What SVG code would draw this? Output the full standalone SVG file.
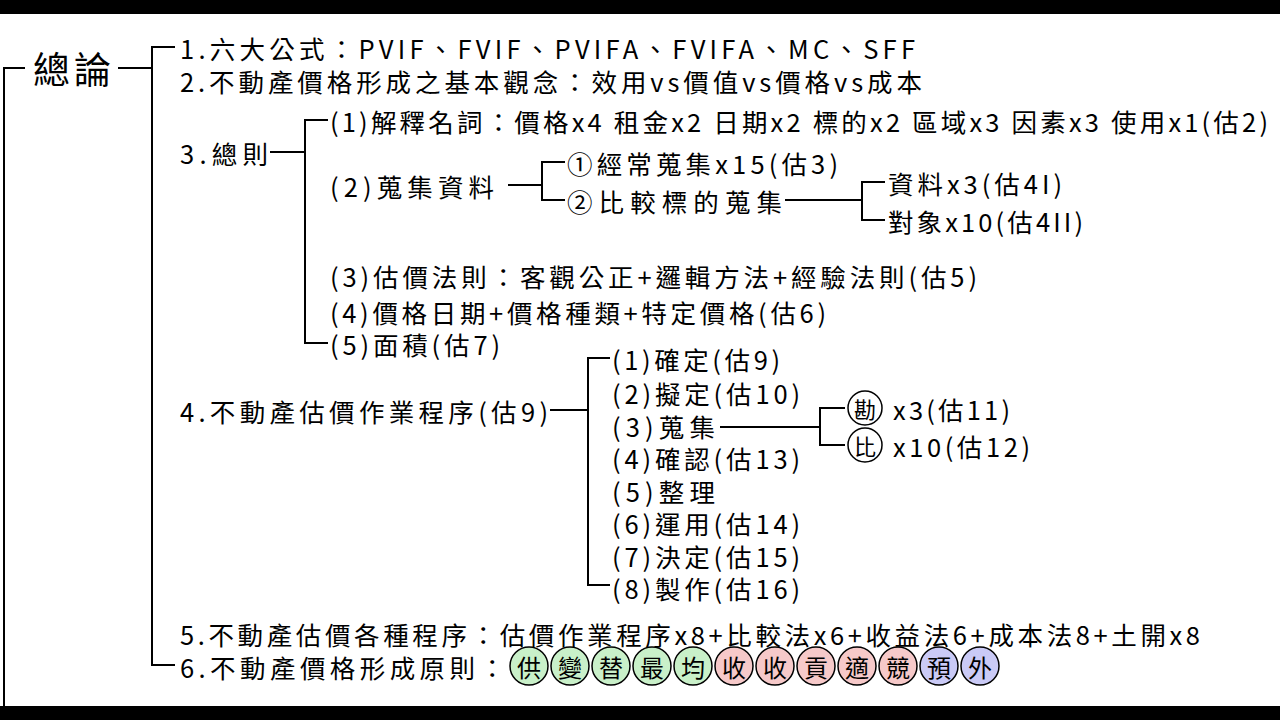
<svg xmlns="http://www.w3.org/2000/svg" width="1280" height="720" viewBox="0 0 1280 720">
<style>
text{font-family:"Noto Sans CJK TC","Liberation Sans",sans-serif;font-size:25.5px;fill:#000;dominant-baseline:central}
.l{stroke:#000;stroke-width:2;fill:none}
.g{fill:#c9f0c9;stroke:#000;stroke-width:1.5}
.r{fill:#f6c9c9;stroke:#000;stroke-width:1.5}
.b{fill:#cacaf6;stroke:#000;stroke-width:1.5}
.w{fill:#fff;stroke:#000;stroke-width:1.5}
.c{text-anchor:middle;font-size:24px}
</style>
<rect x="0" y="0" width="1280" height="14" fill="#000"/>
<rect x="0" y="706" width="1280" height="14" fill="#000"/>
<g id="connectors">
<path class="l" d="M4 720V68H25 M118 68H152 M175 47H152V665H175 M270 152H305 M328 120H305V343H328 M508 185H542 M565 162H542V200H565 M785 200H862 M885 182H862V220H885 M550 410H588 M610 358H588V585H610 M720 427H820 M845 408H820V445H845"/>
</g>
<g id="root"><text x="33" y="68" style="font-size:37px" textLength="78" lengthAdjust="spacing">總論</text></g>
<g id="n1"><text x="180" y="47" textLength="735" lengthAdjust="spacing">1.六大公式：PVIF、FVIF、PVIFA、FVIFA、MC、SFF</text></g>
<g id="n2"><text x="180" y="80" textLength="742" lengthAdjust="spacing">2.不動產價格形成之基本觀念：效用vs價值vs價格vs成本</text></g>
<g id="n3"><text x="180" y="152" textLength="88" lengthAdjust="spacing">3.總則</text></g>
<g id="n3a"><text x="330" y="120" textLength="938" lengthAdjust="spacing">(1)解釋名詞：價格x4 租金x2 日期x2 標的x2 區域x3 因素x3 使用x1(估2)</text></g>
<g id="n3b"><text x="330" y="185" textLength="164" lengthAdjust="spacing">(2)蒐集資料</text></g>
<g id="n3b1"><text x="567" y="162" textLength="271" lengthAdjust="spacing">①經常蒐集x15(估3)</text></g>
<g id="n3b2"><text x="567" y="200" textLength="215" lengthAdjust="spacing">②比較標的蒐集</text></g>
<g id="n3b2a"><text x="888" y="182" textLength="174" lengthAdjust="spacing">資料x3(估4I)</text></g>
<g id="n3b2b"><text x="888" y="220" textLength="195" lengthAdjust="spacing">對象x10(估4II)</text></g>
<g id="n3c"><text x="330" y="275" textLength="647" lengthAdjust="spacing">(3)估價法則：客觀公正+邏輯方法+經驗法則(估5)</text></g>
<g id="n3d"><text x="330" y="311" textLength="496" lengthAdjust="spacing">(4)價格日期+價格種類+特定價格(估6)</text></g>
<g id="n3e"><text x="330" y="343" textLength="170" lengthAdjust="spacing">(5)面積(估7)</text></g>
<g id="n4"><text x="180" y="410" textLength="368" lengthAdjust="spacing">4.不動產估價作業程序(估9)</text></g>
<g id="n4a">
<text x="612" y="358" textLength="168" lengthAdjust="spacing">(1)確定(估9)</text>
<text x="612" y="392" textLength="188" lengthAdjust="spacing">(2)擬定(估10)</text>
<text x="612" y="425" textLength="103" lengthAdjust="spacing">(3)蒐集</text>
<text x="612" y="457" textLength="188" lengthAdjust="spacing">(4)確認(估13)</text>
<text x="612" y="490" textLength="103" lengthAdjust="spacing">(5)整理</text>
<text x="612" y="522" textLength="188" lengthAdjust="spacing">(6)運用(估14)</text>
<text x="612" y="555" textLength="188" lengthAdjust="spacing">(7)決定(估15)</text>
<text x="612" y="587" textLength="188" lengthAdjust="spacing">(8)製作(估16)</text>
</g>
<g id="n4c1"><circle class="w" cx="865" cy="408" r="17"/><text class="c" x="865" y="408" style="font-size:22px">勘</text><text x="893" y="408" textLength="117" lengthAdjust="spacing">x3(估11)</text></g>
<g id="n4c2"><circle class="w" cx="865" cy="445" r="17"/><text class="c" x="865" y="445" style="font-size:22px">比</text><text x="893" y="445" textLength="137" lengthAdjust="spacing">x10(估12)</text></g>
<g id="n5"><text x="180" y="633" textLength="1020" lengthAdjust="spacing">5.不動產估價各種程序：估價作業程序x8+比較法x6+收益法6+成本法8+土開x8</text></g>
<g id="n6"><text x="180" y="666" textLength="325" lengthAdjust="spacing">6.不動產價格形成原則：</text>
<circle class="g" cx="529" cy="666" r="19"/><text class="c" x="529" y="666">供</text>
<circle class="g" cx="570" cy="666" r="19"/><text class="c" x="570" y="666">變</text>
<circle class="g" cx="611" cy="666" r="19"/><text class="c" x="611" y="666">替</text>
<circle class="g" cx="652" cy="666" r="19"/><text class="c" x="652" y="666">最</text>
<circle class="g" cx="693" cy="666" r="19"/><text class="c" x="693" y="666">均</text>
<circle class="r" cx="734" cy="666" r="19"/><text class="c" x="734" y="666">收</text>
<circle class="r" cx="775" cy="666" r="19"/><text class="c" x="775" y="666">收</text>
<circle class="r" cx="816" cy="666" r="19"/><text class="c" x="816" y="666">貢</text>
<circle class="r" cx="857" cy="666" r="19"/><text class="c" x="857" y="666">適</text>
<circle class="r" cx="898" cy="666" r="19"/><text class="c" x="898" y="666">競</text>
<circle class="b" cx="939" cy="666" r="19"/><text class="c" x="939" y="666">預</text>
<circle class="b" cx="980" cy="666" r="19"/><text class="c" x="980" y="666">外</text>
</g>
</svg>
